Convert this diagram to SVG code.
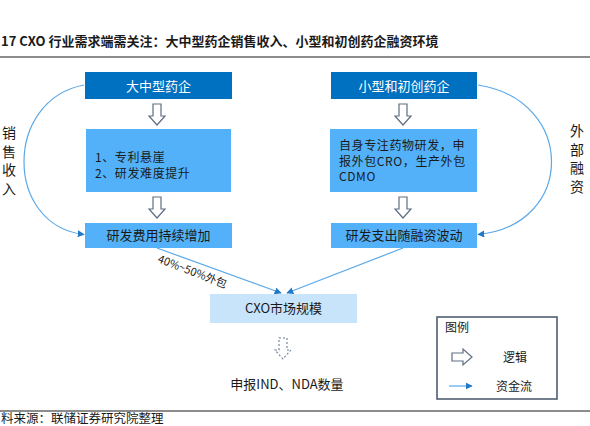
<svg xmlns="http://www.w3.org/2000/svg" width="590" height="426" viewBox="0 0 590 426">
<style>
text{font-family:"Noto Sans CJK SC","Liberation Sans",sans-serif;fill:#1a1a1a}
.t{font-size:13px}
.s{font-size:12px;letter-spacing:0.6px}
.w{fill:#ffffff;font-size:13px}
.dark{fill:#0070C0}
.mid{fill:#52B1F8}
.light{fill:#C7E4FA}
.hollow{fill:#ffffff;stroke:#5E6E82;stroke-width:1.2}
.flow{fill:none;stroke:#5AA8E8;stroke-width:1.2}
.side{font-size:14px;writing-mode:vertical-rl;letter-spacing:4.5px}
</style>
<defs>
<marker id="ah" viewBox="0 0 10 10" refX="9" refY="5" markerWidth="7" markerHeight="7" orient="auto" markerUnits="userSpaceOnUse">
<path d="M0,0 L10,5 L0,10 z" fill="#1F78C8"/>
</marker>
<path id="down" d="M-4,0 h8 v12 h4 l-8,9 l-8,-9 h4 z"/>
</defs>
<rect width="590" height="426" fill="#ffffff"/>
<text x="1" y="46" style="font-size:13px;font-weight:bold">17 CXO 行业需求端需关注：大中型药企销售收入、小型和初创药企融资环境</text>
<rect x="0" y="56" width="590" height="2" fill="#8C8C8C"/>
<rect x="0" y="410" width="590" height="2" fill="#8C8C8C"/>
<text x="1" y="423" style="font-size:12.5px">料来源：联储证券研究院整理</text>

<g id="connectors">
<path class="flow" d="M84,85 C4,100 4,225 84,234.5" marker-end="url(#ah)"/>
<path class="flow" d="M478,85 C576,100 576,225 478,234.5" marker-end="url(#ah)"/>
<path class="flow" d="M157,248 L281,293" marker-end="url(#ah)"/>
<path class="flow" d="M403,248 L287,293" marker-end="url(#ah)"/>
<use href="#down" x="157" y="104" class="hollow"/>
<use href="#down" x="157" y="197" class="hollow"/>
<use href="#down" x="403" y="104" class="hollow"/>
<use href="#down" x="403" y="197" class="hollow"/>
<use href="#down" x="283" y="338" style="fill:#ffffff;stroke:#6A7E96;stroke-width:1.1;stroke-dasharray:2,2"/>
<text transform="translate(157,262) rotate(21)" style="font-size:11px">40%~50%外包</text>
</g>

<g id="n-large">
<rect class="dark" x="85" y="72" width="147" height="27"/>
<text class="w" x="158.5" y="90.5" text-anchor="middle">大中型药企</text>
</g>
<g id="n-large-reason">
<rect class="mid" x="86" y="129" width="145" height="63"/>
<text class="s"><tspan x="95" y="162">1、专利悬崖</tspan><tspan x="95" y="177.5">2、研发难度提升</tspan></text>
</g>
<g id="n-large-rd">
<rect class="mid" x="85" y="223" width="147" height="25"/>
<text class="t" x="158.5" y="240" text-anchor="middle">研发费用持续增加</text>
</g>

<g id="n-small">
<rect class="dark" x="331" y="72" width="146" height="27"/>
<text class="w" x="404" y="90.5" text-anchor="middle">小型和初创药企</text>
</g>
<g id="n-small-reason">
<rect class="mid" x="330" y="129" width="147" height="63"/>
<text class="s"><tspan x="339" y="150">自身专注药物研发，申</tspan><tspan x="339" y="165.5">报外包CRO，生产外包</tspan><tspan x="339" y="181">CDMO</tspan></text>
</g>
<g id="n-small-rd">
<rect class="mid" x="331" y="223" width="146" height="25"/>
<text class="t" x="404" y="240" text-anchor="middle">研发支出随融资波动</text>
</g>

<g id="n-cxo">
<rect class="light" x="210" y="294" width="147" height="29"/>
<text class="t" x="283.5" y="313" text-anchor="middle">CXO市场规模</text>
</g>
<g id="n-ind">
<text class="t" x="287" y="389" text-anchor="middle">申报IND、NDA数量</text>
</g>

<g id="l-sales">
<text class="side" x="9" y="126">销售收入</text>
</g>
<g id="l-finance">
<text class="side" x="577" y="124">外部融资</text>
</g>

<g id="legend">
<rect x="437" y="317" width="120" height="82" fill="#ffffff" stroke="#44546A" stroke-width="1.5"/>
<text x="445" y="332" style="font-size:12px">图例</text>
<path class="hollow" d="M452,353 h11 v-4 l9,8 l-9,8 v-4 h-11 z"/>
<text x="503" y="362" style="font-size:12px">逻辑</text>
<path class="flow" d="M449,386 L472,386" marker-end="url(#ah)"/>
<text x="496" y="391" style="font-size:12px">资金流</text>
</g>
</svg>
